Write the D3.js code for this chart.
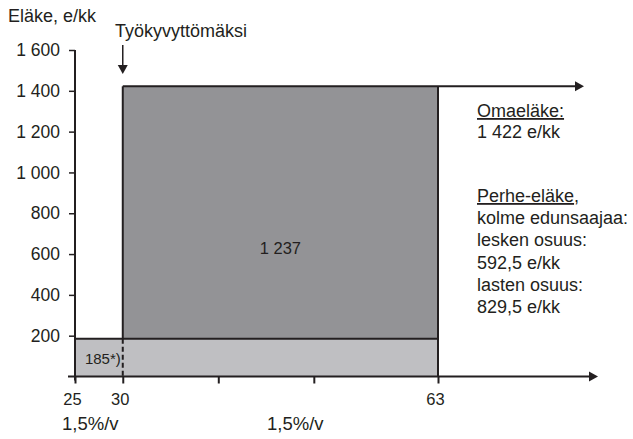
<!DOCTYPE html>
<html>
<head>
<meta charset="utf-8">
<script src="https://cdn.jsdelivr.net/npm/d3@7.9.0/dist/d3.min.js"></script>
<style>
  body { margin: 0; background: #fff; }
  svg { display: block; font-family: "Liberation Sans", Arial, sans-serif; fill: #231f20; }
</style>
</head>
<body>
<svg id="chart" width="633" height="439"></svg>
<script>
// data
const barNames = ["185*)", "1 237"];
const barStartAge = [25, 30];
const barEndAge = [63, 63];
const barValues = [185, 1237];
const ageTicks = [25, 30, 40, 50, 63];
const ageTickLabels = ["25", "30", "", "", "63"];
const pensionTicks = [200, 400, 600, 800, 1000, 1200, 1400, 1600];
const accrualLabels = ["1,5%/v", "1,5%/v"];
const ownPensionNote = ["Omaeläke:", "1 422 e/kk"];
const familyPensionNote = ["Perhe-eläke,", "kolme edunsaajaa:", "lesken osuus:", "592,5 e/kk", "lasten osuus:", "829,5 e/kk"];

const ink = "#231f20";
const svg = d3.select("#chart");

const x = d3.scaleLinear().domain([25, 63]).range([75, 438]);
const y = d3.scaleLinear().domain([0, 1600]).range([376.5, 50]);

// stack the two bars
let base = 0;
const bars = barValues.map((v, i) => {
  const b = { name: barNames[i], x0: barStartAge[i], x1: barEndAge[i], y0: base, y1: base + v };
  base += v;
  return b;
});
const total = base;

const fills = ["#bfbfc2", "#939396"];

svg.selectAll("rect.bar")
  .data(bars)
  .join("rect")
  .attr("class", "bar")
  .attr("x", d => x(d.x0))
  .attr("y", d => y(d.y1))
  .attr("width", d => x(d.x1) - x(d.x0))
  .attr("height", d => y(d.y0) - y(d.y1))
  .attr("fill", (d, i) => fills[i]);

// outlines: top edges and right edge
bars.forEach(d => {
  svg.append("line")
    .attr("x1", x(d.x0)).attr("x2", x(d.x1))
    .attr("y1", y(d.y1)).attr("y2", y(d.y1))
    .attr("stroke", ink).attr("stroke-width", 2);
});
svg.append("line")
  .attr("x1", x(bars[1].x0)).attr("x2", x(bars[1].x0))
  .attr("y1", y(bars[1].y1)).attr("y2", y(bars[1].y0))
  .attr("stroke", ink).attr("stroke-width", 2);
svg.append("line")
  .attr("x1", x(63)).attr("x2", x(63))
  .attr("y1", y(total)).attr("y2", y(0))
  .attr("stroke", ink).attr("stroke-width", 2);
// dashed line at 30 inside the light bar
svg.append("line")
  .attr("x1", x(30)).attr("x2", x(30))
  .attr("y1", y(bars[0].y1)).attr("y2", y(0))
  .attr("stroke", ink).attr("stroke-width", 2)
  .attr("stroke-dasharray", "5,3");

function arrowHead(tx, ty, dir) {
  // dir: "right" or "down"
  const p = dir === "right"
    ? [[tx, ty], [tx - 9, ty - 5], [tx - 9, ty + 5]]
    : [[tx, ty], [tx - 5, ty - 9], [tx + 5, ty - 9]];
  svg.append("path").attr("d", d3.line()(p) + "Z").attr("fill", ink);
}

// top line continuing to the right
svg.append("line")
  .attr("x1", x(63)).attr("x2", 576)
  .attr("y1", y(total)).attr("y2", y(total))
  .attr("stroke", ink).attr("stroke-width", 2);
arrowHead(584, y(total), "right");

// x axis
const xAxis = d3.axisBottom(x)
  .tickValues(ageTicks)
  .tickSize(7)
  .tickPadding(10)
  .tickFormat((d, i) => ageTickLabels[i]);
const gx = svg.append("g").attr("transform", `translate(0,${y(0)})`).call(xAxis);
gx.select(".domain").remove();
gx.selectAll(".tick line").attr("stroke", ink).attr("stroke-width", 2);
gx.selectAll(".tick text").attr("font-size", 16.5).attr("fill", ink).attr("font-family", null).attr("dx", -3);
svg.append("line")
  .attr("x1", 68).attr("x2", 590)
  .attr("y1", y(0)).attr("y2", y(0))
  .attr("stroke", ink).attr("stroke-width", 2);
arrowHead(598, y(0), "right");

// y axis
const yAxis = d3.axisLeft(y)
  .tickValues(pensionTicks)
  .tickSize(6)
  .tickPadding(9)
  .tickFormat(d => d3.format(",")(d).replace(",", " "));
const gy = svg.append("g").attr("transform", `translate(${x(25)},0)`).call(yAxis);
gy.select(".domain").remove();
gy.selectAll(".tick line").attr("stroke", ink).attr("stroke-width", 1.5);
gy.selectAll(".tick text").attr("font-size", 17.5).attr("fill", ink).attr("font-family", null);
svg.append("line")
  .attr("x1", x(25)).attr("x2", x(25))
  .attr("y1", y(1600)).attr("y2", y(0) + 4)
  .attr("stroke", ink).attr("stroke-width", 2);

// axis title
svg.append("text").attr("x", 8).attr("y", 22).attr("font-size", 18).text("Eläke, e/kk");

// disability marker
svg.append("text").attr("x", 115).attr("y", 37).attr("font-size", 18).text("Työkyvyttömäksi");
svg.append("line")
  .attr("x1", x(30)).attr("x2", x(30))
  .attr("y1", 45).attr("y2", 66)
  .attr("stroke", ink).attr("stroke-width", 1.5);
arrowHead(x(30), 74, "down");

// bar labels
svg.append("text")
  .attr("x", x(30) - 2).attr("y", y(bars[0].y1 / 2) + 6)
  .attr("text-anchor", "end").attr("font-size", 15)
  .text(bars[0].name);
svg.append("text")
  .attr("x", x((bars[1].x0 + bars[1].x1) / 2)).attr("y", y(600))
  .attr("text-anchor", "middle").attr("font-size", 16.5)
  .text(bars[1].name);

// accrual rates under the axis
svg.selectAll("text.rate")
  .data(accrualLabels)
  .join("text")
  .attr("class", "rate")
  .attr("x", (d, i) => i === 0 ? 62 : 267)
  .attr("y", 430)
  .attr("font-size", 18.5)
  .text(d => d);

// side notes
const notes = svg.append("g").attr("font-size", 18);
ownPensionNote.forEach((t, i) => {
  notes.append("text").attr("x", 477).attr("y", 117 + i * 21)
    .attr("text-decoration", i === 0 ? "underline" : null)
    .text(t);
});
familyPensionNote.forEach((t, i) => {
  const tx = notes.append("text").attr("x", 477).attr("y", 202 + i * 22.2);
  if (i === 0) {
    tx.append("tspan").attr("text-decoration", "underline").text(t.slice(0, -1));
    tx.append("tspan").text(t.slice(-1));
  } else {
    tx.text(t);
  }
});
</script>
</body>
</html>
